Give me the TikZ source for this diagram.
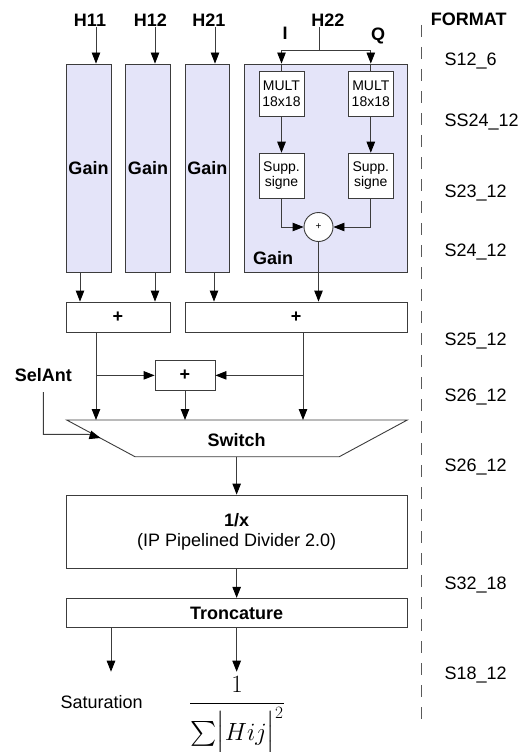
\documentclass[tikz,border=0pt]{standalone}
\usepackage{exscale}
\usepackage[no-math]{fontspec}
\setmainfont{Liberation Sans}
\usetikzlibrary{arrows.meta,calc}
\definecolor{gainfill}{RGB}{228,228,249}
\definecolor{linec}{RGB}{60,60,60}
\definecolor{dashc}{RGB}{90,90,90}
\begin{document}
\begin{tikzpicture}[x=1pt,y=-1pt,
  every node/.style={font=\fontsize{18}{21}\selectfont, inner sep=0pt},
  box/.style={draw=linec, line width=0.9pt, fill=white, align=center},
  gbox/.style={box, fill=gainfill},
  lab/.style={font=\fontsize{18}{21}\selectfont\bfseries},
  fmt/.style={font=\fontsize{18}{21}\selectfont, anchor=base west},
  small/.style={font=\fontsize{14}{15.5}\selectfont},
  conn/.style={draw=linec, line width=0.9pt},
  arr/.style={conn, -{Triangle[length=11pt,width=8.5pt,color=black]}},
]
\useasboundingbox (0,0) rectangle (523,752);

% gain blocks
\node[gbox, lab, minimum width=45pt, minimum height=208pt] (g1) at (88.5,168) {Gain};
\node[gbox, lab, minimum width=44.6pt, minimum height=208pt] (g2) at (148,168) {Gain};
\node[gbox, lab, minimum width=44.7pt, minimum height=208pt] (g3) at (207.35,168) {Gain};
\node[gbox, minimum width=163.4pt, minimum height=208pt] (g4) at (326,168) {};
\node[lab, anchor=base west] (g4t) at (253,264) {Gain};

\node[box, small, minimum width=45pt, minimum height=45.7pt] (m1) at (281.5,93.85) {MULT\\18x18};
\node[box, small, minimum width=45pt, minimum height=45.7pt] (m2) at (370.8,93.85) {MULT\\18x18};
\node[box, small, minimum width=45pt, minimum height=45pt] (s1) at (281.5,175.65) {Supp.\\signe};
\node[box, small, minimum width=45pt, minimum height=45pt] (s2) at (370.8,175.65) {Supp.\\signe};
\node[draw=linec, line width=0.9pt, fill=white, circle, minimum size=29pt, font=\fontsize{10}{12}\selectfont] (sum) at (318.5,227) {+};

% adders
\node[box, lab, minimum width=104pt, minimum height=30pt] (p1) at (118,317) {+};
\node[box, lab, minimum width=222.3pt, minimum height=30pt] (p2) at (296.15,317) {+};
\node[box, lab, minimum width=60pt, minimum height=29.3pt] (p3) at (185,375.35) {+};

% switch
\coordinate (swA) at (66.7,420);
\coordinate (swB) at (407.3,420);
\coordinate (swC) at (339.3,456.7);
\coordinate (swD) at (135,456.7);
\draw[conn, fill=white] (swA) -- (swB) -- (swC) -- (swD) -- cycle;
\node[lab, anchor=base] (sw) at (236.7,446) {Switch};

% divider and truncation
\node[box, font=\fontsize{18}{20}\selectfont, minimum width=341.3pt, minimum height=73.3pt] (div) at (236.65,531.65) {\textbf{1/x}\\(IP Pipelined Divider 2.0)};
\node[box, lab, minimum width=341.3pt, minimum height=29.4pt] (tr) at (236.65,613) {Troncature};

% labels
\node[lab, anchor=base] (h11) at (90,26.7) {H11};
\node[lab, anchor=base] (h12) at (150.3,26.7) {H12};
\node[lab, anchor=base] (h21) at (209,26.7) {H21};
\node[lab, anchor=base] (h22) at (328,26.7) {H22};
\node[lab, anchor=base] (li) at (285,40) {I};
\node[lab, anchor=base] (lq) at (378,40.5) {Q};
\node[lab, anchor=base west] (fmth) at (430.7,26) {FORMAT};
\node[lab, anchor=base] (sel) at (43.3,381.7) {SelAnt};
\node[anchor=base] (sat) at (101.7,708.3) {Saturation};
\node[anchor=base] (frm) at (237,709.8) {\fontsize{26}{32}\selectfont$\displaystyle\frac{1}{\sum\Bigl|Hij\Bigr|^{2}}$};

% format column
\node[fmt] (f1) at (444.5,66) {S12\_6};
\node[fmt] (f2) at (444.5,126) {SS24\_12};
\node[fmt] (f3) at (444.5,197.7) {S23\_12};
\node[fmt] (f4) at (444.5,256) {S24\_12};
\node[fmt] (f5) at (444.5,345) {S25\_12};
\node[fmt] (f6) at (444.5,401.7) {S26\_12};
\node[fmt] (f7) at (444.5,471.7) {S26\_12};
\node[fmt] (f8) at (444.5,589.3) {S32\_18};
\node[fmt] (f9) at (444.5,679) {S18\_12};
\coordinate (dtop) at (421.7,25);
\coordinate (dbot) at (421.7,723);
\draw[dashc, line width=0.9pt, dash pattern=on 12pt off 10pt] (dtop) -- (dbot);

% column coordinates
\coordinate (t1) at (96,0);
\coordinate (t2) at (155,0);
\coordinate (t3) at (215,0);
\coordinate (b1) at (80,0);
\coordinate (b2) at (155,0);
\coordinate (b3) at (214,0);
\coordinate (o1) at (96,0);
\coordinate (o2) at (303,0);
\coordinate (split) at (319,50);

% connectors
\draw[arr] (h11.south -| t1) -- (g1.north -| t1);
\draw[arr] (h12.south -| t2) -- (g2.north -| t2);
\draw[arr] (h21.south -| t3) -- (g3.north -| t3);
\draw[conn] (h22.south -| split) -- (split);
\draw[arr] (split) -| (m1.north |- g4.north);
\draw[arr] (split) -| (m2.north |- g4.north);
\draw[conn] (m1.north |- g4.north) -- (m1.north);
\draw[conn] (m2.north |- g4.north) -- (m2.north);
\draw[arr] (m1) -- (s1);
\draw[arr] (m2) -- (s2);
\draw[arr] (s1.south) |- (sum.west);
\draw[arr] (s2.south) |- (sum.east);
\draw[arr] (g1.south -| b1) -- (p1.north -| b1);
\draw[arr] (g2.south -| b2) -- (p1.north -| b2);
\draw[arr] (g3.south -| b3) -- (p2.north -| b3);
\draw[arr] (sum.south) -- (p2.north -| sum.south);
\draw[arr] (p1.south -| o1) -- (o1 |- swA);
\draw[arr] (p2.south -| o2) -- (o2 |- swA);
\draw[arr] (o1 |- p3.west) -- (p3.west);
\draw[arr] (o2 |- p3.east) -- (p3.east);
\draw[arr] (p3.south) -- (p3.south |- swA);
\coordinate (selstart) at (43.3,392);
\coordinate (selcorner) at (88,434.3);
\coordinate (selin) at (100.5,438);
\draw[arr] (selstart) |- (selcorner) -- (selin);
\coordinate (swO) at (236.65,456.7);
\draw[arr] (swO) -- (div.north);
\draw[arr] (div) -- (tr);
\coordinate (satend) at (111,671.7);
\coordinate (frmend) at (236.65,671.7);
\draw[arr] (tr.south -| satend) -- (satend);
\draw[arr] (tr.south -| frmend) -- (frmend);
\end{tikzpicture}
\end{document}
